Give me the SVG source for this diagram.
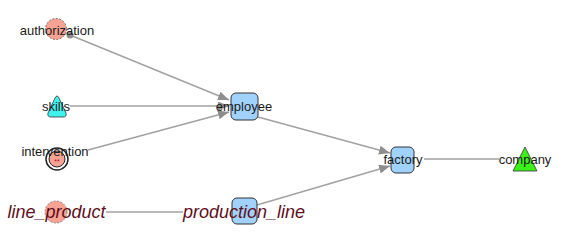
<svg xmlns="http://www.w3.org/2000/svg" width="567" height="252" viewBox="0 0 567 252">
  <style>
    .edge { stroke: #a2a2a2; stroke-width: 1.5; fill: none; }
    .box { fill: #a1d2fb; stroke: #333; stroke-width: 1; }
    .lbl { font-family: "Liberation Sans", Arial, sans-serif; font-size: 13px; fill: #1a1a1a; text-anchor: middle; }
    .ital { font-family: "Liberation Sans", Arial, sans-serif; font-size: 18px; font-style: italic; fill: #5e0f1c; text-anchor: middle; }
  </style>
  <defs>
    <marker id="arrow" viewBox="0 0 11 9" refX="11" refY="4.5" markerWidth="11" markerHeight="9" markerUnits="userSpaceOnUse" orient="auto">
      <path d="M0,0 L11,4.5 L0,9 Z" fill="#8e8e8e"/>
    </marker>
    <marker id="dot" viewBox="0 0 8 8" refX="4" refY="4" markerWidth="8" markerHeight="8" markerUnits="userSpaceOnUse">
      <circle cx="4" cy="4" r="3.5" fill="#8e8e8e"/>
    </marker>
  </defs>
  <rect width="567" height="252" fill="#ffffff"/>

  <g id="connectors">
    <line class="edge" x1="70" y1="35" x2="229" y2="100" marker-start="url(#dot)" marker-end="url(#arrow)"/>
    <line class="edge" x1="70" y1="106" x2="229" y2="106" marker-end="url(#arrow)"/>
    <line class="edge" x1="88" y1="150" x2="229" y2="112" marker-end="url(#arrow)"/>
    <line class="edge" x1="258" y1="117" x2="390" y2="153" marker-end="url(#arrow)"/>
    <line class="edge" x1="106" y1="212" x2="183" y2="212"/>
    <line class="edge" x1="257" y1="205" x2="390" y2="166" marker-end="url(#arrow)"/>
    <line class="edge" x1="424" y1="159" x2="499" y2="159"/>
  </g>

  <g id="authorization">
    <circle cx="56" cy="29" r="10.5" fill="#f8a293" stroke="#555" stroke-width="0.8" stroke-dasharray="2,1.5"/>
    <text class="lbl" x="57" y="34.5">authorization</text>
  </g>

  <g id="skills">
    <path d="M57,96 Q58,96 59,98 L66,113 Q67,117 63,117 L51,117 Q47,117 48,113 L55,98 Q56,96 57,96 Z" fill="#3ff2ee" stroke="#333" stroke-width="0.8"/>
    <text class="lbl" x="56" y="111">skills</text>
  </g>

  <g id="intervention">
    <circle cx="57" cy="159" r="11" fill="#fff" stroke="#222" stroke-width="1.5"/>
    <circle cx="57" cy="159" r="8" fill="#f8a293" stroke="#222" stroke-width="1"/>
    <text x="57" y="164" font-family="Liberation Sans, Arial, sans-serif" font-size="7" fill="#b0101a" text-anchor="middle">**</text>
    <text class="lbl" x="55" y="156">intervention</text>
  </g>

  <g id="line_product">
    <circle cx="56" cy="212" r="11" fill="#f8a293" stroke="#777" stroke-width="0.8" stroke-dasharray="2,1.5"/>
    <text class="ital" x="56.5" y="218">line_product</text>
  </g>

  <g id="employee">
    <rect class="box" x="231" y="93" width="27" height="27" rx="5"/>
    <text class="lbl" x="244" y="111">employee</text>
  </g>

  <g id="production_line">
    <rect class="box" x="232" y="198" width="25" height="26" rx="5"/>
    <text class="ital" x="244" y="218">production_line</text>
  </g>

  <g id="factory">
    <rect class="box" x="391" y="147" width="23" height="26" rx="5"/>
    <text class="lbl" x="403" y="164">factory</text>
  </g>

  <g id="company">
    <polygon points="525,147 537,171 513,171" fill="#3cf01a" stroke="#333" stroke-width="0.8"/>
    <text class="lbl" x="525" y="164">company</text>
  </g>
</svg>
